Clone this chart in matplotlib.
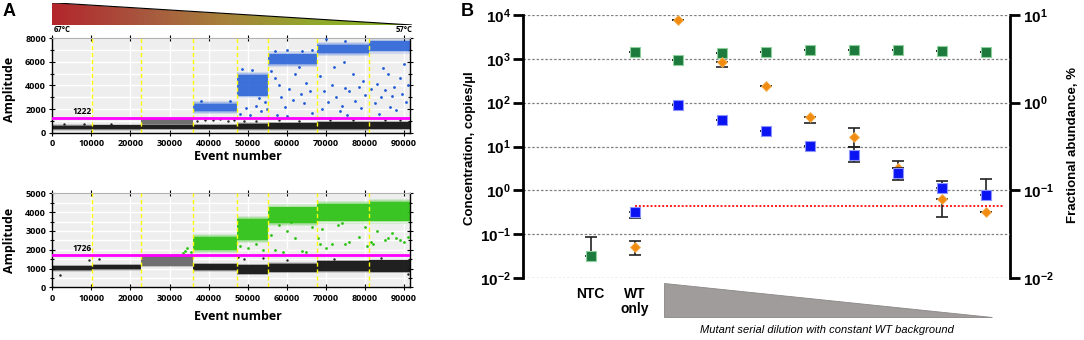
import numpy as np
import matplotlib
matplotlib.use('Agg')
import matplotlib.pyplot as plt
from matplotlib.patches import Polygon
from matplotlib.colors import LinearSegmentedColormap
from matplotlib.ticker import NullLocator, MultipleLocator, FixedLocator
import matplotlib.transforms as mtransforms

plt.rcParams['font.family'] = ['Liberation Sans', 'DejaVu Sans']
plt.rcParams['font.weight'] = 'bold'
plt.rcParams['mathtext.fontset'] = 'custom'
plt.rcParams['mathtext.bf'] = 'Liberation Sans:bold'
plt.rcParams['mathtext.rm'] = 'Liberation Sans'

# ======================= DATA =======================
# ---- Panel A: droplet plots ----
well_edges = [0, 10200, 22800, 36100, 47300, 55200, 67700, 81000, 91500]
fam_threshold = 1222
hex_threshold = 1726

# cluster bands per well (amplitude low / high); None = no cluster
fam_neg_lo = [300, 300, 320, 330, 300, 290, 300, 310]
fam_neg_hi = [600, 620, 640, 650, 760, 820, 880, 900]
fam_mid_lo = [None, None, 720, None, None, None, None, None]
fam_mid_hi = [None, None, 1200, None, None, None, None, None]
fam_pos_lo = [None, None, None, 1800, 3150, 5800, 6750, 6950]
fam_pos_hi = [None, None, None, 2450, 4900, 6650, 7450, 7750]

hex_neg_lo = [900, 950, None, 900, 720, 820, 860, 820]
hex_neg_hi = [1130, 1180, None, 1220, 1180, 1250, 1380, 1430]
hex_mid_lo = [None, None, 1150, None, None, None, None, None]
hex_mid_hi = [None, None, 1700, None, None, None, None, None]
hex_pos_lo = [None, None, None, 1980, 2500, 3400, 3550, 3550]
hex_pos_hi = [None, None, None, 2700, 3650, 4250, 4450, 4550]

# scattered "rain" droplets (event number, amplitude)
fam_rain_x = [48000, 49500, 50500, 52000, 53500, 54500, 51000, 48500, 53000, 55000,
              56000, 57000, 58500, 59500, 60500, 61500, 62000, 63500, 64500, 65000,
              66500, 57500, 60000, 63000, 66000, 58000, 57000, 60000, 64000, 66500,
              68500, 69500, 70500, 71500, 72500, 73500, 74000, 75000, 76000, 77000,
              77500, 78500, 79500, 80000, 72000, 69000, 75500, 74500, 79000, 70000,
              75000, 81500, 82500, 83000, 84000, 85000, 86000, 86500, 87500, 88000,
              89000, 89500, 90500, 91000, 90000, 84500, 83500, 87000, 45500, 38000]
fam_rain_y = [1600, 2100, 1500, 2300, 1800, 2600, 5300, 5400, 2900, 2000,
              5200, 4600, 3000, 2200, 3700, 2800, 5000, 3300, 2500, 4200,
              1700, 1500, 1400, 5600, 3500, 4000, 6950, 7000, 6900, 7000,
              4800, 3500, 2600, 4000, 3000, 1800, 2300, 3800, 3500, 5000,
              2700, 3900, 4400, 3200, 5600, 2000, 1500, 6000, 2100, 7900,
              7800, 3700, 2500, 4100, 3000, 3600, 5000, 2200, 3900, 1900,
              4600, 3300, 2600, 4000, 5800, 5500, 1600, 3100, 2700, 2650]
fam_neg_out_x = [3000, 8000, 15000, 37000, 39000, 41000, 43000, 45000, 46500, 49000,
                 52000, 58000, 63000, 71000, 77000, 85000, 89000]
fam_neg_out_y = [700, 750, 720, 1000, 1100, 1050, 1150, 1000, 1100, 950,
                 1000, 1050, 1000, 1100, 1050, 1100, 1080]

hex_rain_x = [33500, 34500, 35500, 34000, 48000, 50000, 52000, 54000,
              56000, 57000, 58000, 59000, 60000, 62000, 64000, 65000, 66500, 61000,
              68000, 68500, 70000, 71500, 73000, 75000, 76000, 78500, 80000, 80500,
              69000, 74000, 81500, 82000, 83000, 85000, 86000, 87000, 88000, 89000,
              90000, 91000]
hex_rain_y = [1850, 2100, 1900, 1950, 2200, 2100, 2300, 2000,
              2800, 2000, 3300, 1900, 3000, 2600, 1950, 1900, 3200, 3500,
              2600, 2300, 2100, 2300, 3300, 2300, 2400, 2700, 3200, 2200,
              3100, 3400, 2400, 2300, 3000, 2500, 2600, 2900, 2600, 2500,
              2400, 2700]
hex_neg_out_x = [2000, 9500, 12000, 47500, 49000, 54000, 91000, 60000, 72000, 84000]
hex_neg_out_y = [650, 1450, 1500, 1600, 1500, 1550, 700, 1450, 1500, 1550]

# ---- Panel B ----
categories = ['NTC', 'WT\nonly', 'D1', 'D2', 'D3', 'D4', 'D5', 'D6', 'D7', 'D8']
wt_conc = [0.032, 1450, 940, 1330, 1450, 1550, 1550, 1600, 1520, 1430]
wt_err_lo = [0, 0, 0, 0, 0, 0, 0, 0, 0, 0]
wt_err_hi = [0.055, 0, 0, 0, 0, 0, 0, 0, 0, 0]
mut_conc = [np.nan, 0.32, 87, 40, 22, 10.2, 6.3, 2.45, 1.15, 0.78]
mut_err_lo = [0, 0.083, 0, 0, 0, 0, 1.93, 0.73, 0, 0]
mut_err_hi = [0, 0, 0, 0, 0, 0, 3.7, 0.85, 0.48, 1.03]
frac_abund = [np.nan, 0.0226, 8.77, 2.93, 1.54, 0.68, 0.41, 0.181, 0.079, 0.056]
frac_err_lo = [0, 0.0043, 0, 0.36, 0, 0.09, 0.095, 0, 0.029, 0]
frac_err_hi = [0, 0.0041, 0, 0, 0, 0, 0.109, 0.033, 0, 0]
lod_conc = 0.447

# ======================= FIGURE =======================
W, H = 1084, 340
fig = plt.figure(figsize=(W / 100, H / 100), dpi=100)


def px_axes(x0, y0, x1, y1):
    return fig.add_axes([x0 / W, 1 - y1 / H, (x1 - x0) / W, (y1 - y0) / H])


def ftext(x, y, s, **kw):
    return fig.text(x / W, 1 - y / H, s, **kw)


AFONT = 'Open Sans'


def band(ax, x0, x1, lo, hi, color, fringe, core_alpha=0.9):
    if lo is None:
        return
    for k, a in [(1.0, 0.15), (0.6, 0.2), (0.25, 0.25)]:
        ax.fill_between([x0, x1], lo - k * fringe, hi + k * fringe, color=color, alpha=a,
                        lw=0, zorder=2)
    ax.fill_between([x0, x1], lo, hi, color=color, alpha=core_alpha, lw=0, zorder=2.1)


def droplet_panel(ax, ymax, ystep, yminor, neg_lo, neg_hi, mid_lo, mid_hi, pos_lo, pos_hi,
                  pos_color, pos_alpha, rain_x, rain_y, nx, ny, thr, fringe):
    ax.set_facecolor('#eeeeee')
    ax.set_xlim(0, 91500)
    ax.set_ylim(0, ymax)
    ax.set_xticks(np.arange(0, 90001, 10000))
    ax.set_yticks(np.arange(0, ymax + 1, ystep))
    ax.yaxis.set_minor_locator(MultipleLocator(yminor))
    ax.grid(True, which='both', color='white', lw=1.0)
    ax.set_axisbelow(True)
    for i in range(len(well_edges) - 1):
        x0, x1 = well_edges[i], well_edges[i + 1]
        band(ax, x0, x1, neg_lo[i], neg_hi[i], '#151515', fringe)
        band(ax, x0, x1, mid_lo[i], mid_hi[i], '#6a6a6a', fringe)
        band(ax, x0, x1, pos_lo[i], pos_hi[i], pos_color, fringe * 2, pos_alpha)
    ax.scatter(rain_x, rain_y, s=4, color=pos_color, lw=0, zorder=3)
    ax.scatter(nx, ny, s=3, color='#202020', lw=0, zorder=3)
    for e in well_edges[1:-1]:
        ax.axvline(e, color='#ffff00', lw=1.0, ls=(0, (3, 2)), zorder=4)
    ax.axhline(thr, color='#ff00ff', lw=2.0, zorder=5)
    ax.text(7700, thr + ymax * 0.02, str(thr), fontsize=6, fontweight='bold', family=AFONT,
            ha='center', va='bottom', zorder=6)
    ax.tick_params(axis='both', which='both', direction='inout', top=True, right=True,
                   labelsize=6.5, width=0.8, pad=2)
    ax.tick_params(axis='both', which='major', length=5)
    ax.tick_params(axis='both', which='minor', length=3)
    for s in ['left', 'bottom', 'right']:
        ax.spines[s].set_color('black')
        ax.spines[s].set_linewidth(1.0)
    ax.spines['top'].set_color('#b0b0b0')
    for lbl in ax.get_xticklabels() + ax.get_yticklabels():
        lbl.set_family(AFONT)
        lbl.set_fontweight('bold')


# ---- gradient triangle ----
axg = px_axes(52, 2.7, 412, 25)
axg.set_xlim(0, 1)
axg.set_ylim(0, 1)
axg.axis('off')
cmap = LinearSegmentedColormap.from_list('temp', ['#b3262c', '#a8563f', '#a6843a', '#8fab2a', '#86b327'])
im = axg.imshow(np.linspace(0, 1, 256)[None, :], cmap=cmap, aspect='auto', extent=[0, 1, 0, 1])
tri = Polygon([(0, 1), (0, 0), (1, 0)], closed=True, transform=axg.transData)
im.set_clip_path(tri)
axg.plot([0, 1], [1, 0], color='black', lw=0.8)
axg.plot([0, 1], [0, 0], color='#333333', lw=0.6)
ftext(54, 30, '67°C', fontsize=5.5, fontweight='bold', family=AFONT, ha='left', va='center')
ftext(412, 30, '57°C', fontsize=5.5, fontweight='bold', family=AFONT, ha='right', va='center')

# ---- droplet panels ----
ax1 = px_axes(52.3, 38.3, 410, 132.7)
droplet_panel(ax1, 8000, 2000, 1000, fam_neg_lo, fam_neg_hi, fam_mid_lo, fam_mid_hi,
              fam_pos_lo, fam_pos_hi, '#1f5ad6', 0.7, fam_rain_x, fam_rain_y,
              fam_neg_out_x, fam_neg_out_y, fam_threshold, 120)
ax2 = px_axes(52.3, 193.3, 410, 287.3)
droplet_panel(ax2, 5000, 1000, 500, hex_neg_lo, hex_neg_hi, hex_mid_lo, hex_mid_hi,
              hex_pos_lo, hex_pos_hi, '#2cc214', 0.85, hex_rain_x, hex_rain_y,
              hex_neg_out_x, hex_neg_out_y, hex_threshold, 80)

ftext(10, 89, 'Amplitude', rotation=90, fontsize=9, fontweight='bold', family=AFONT,
      ha='center', va='center')
ftext(10, 240, 'Amplitude', rotation=90, fontsize=9, fontweight='bold', family=AFONT,
      ha='center', va='center')
ftext(238, 157, 'Event number', fontsize=9, fontweight='bold', family=AFONT,
      ha='center', va='center')
ftext(238, 317, 'Event number', fontsize=9, fontweight='bold', family=AFONT,
      ha='center', va='center')
ftext(9, 11, 'A', fontsize=13, fontweight='bold', ha='center', va='center')

# ---- Panel B ----
axB = px_axes(523, 15, 1010, 278)
axB.set_yscale('log')
axB.set_ylim(1e-2, 1e4)
x = np.arange(len(categories))
axB.set_xlim(-1.54, 9.55)
for s in ['top', 'bottom', 'right']:
    axB.spines[s].set_visible(False)
axB.spines['left'].set_linewidth(2)
axB.set_xticks([])
dec = list(range(-2, 5))
axB.yaxis.set_major_locator(FixedLocator([10.0 ** k for k in dec]))
axB.set_yticklabels([r'$\mathbf{10^{%d}}$' % k for k in dec])
axB.yaxis.set_minor_locator(NullLocator())
axB.tick_params(axis='y', which='major', length=7, width=2, labelsize=11, pad=2)
axB.yaxis.grid(True, which='major', color='#808080', ls=(0, (2, 1.5)), lw=0.9)
axB.set_axisbelow(True)


def conc_to_frac(v):
    return np.sqrt(np.clip(np.asarray(v, dtype=float), 1e-30, None) / 100.0)


def frac_to_conc(f):
    return 100.0 * np.asarray(f, dtype=float) ** 2


sec = axB.secondary_yaxis('right', functions=(conc_to_frac, frac_to_conc))
sec.spines['right'].set_linewidth(2)
rdec = list(range(-2, 2))
sec.yaxis.set_major_locator(FixedLocator([10.0 ** k for k in rdec]))
sec.set_yticklabels([r'$\mathbf{10^{%d}}$' % k for k in rdec])
sec.yaxis.set_minor_locator(NullLocator())
sec.tick_params(axis='y', which='major', length=7, width=2, labelsize=11, pad=2)

# limit of detection line
axB.plot([x[1], 9.4], [lod_conc, lod_conc], color='#ff1a1a', lw=1.4, ls=(0, (1, 1)), zorder=2)

ekw = dict(fmt='none', ecolor='#222222', elinewidth=1.2, capsize=4, capthick=1.2)
# green (WT)
axB.errorbar(x, wt_conc, yerr=[wt_err_lo, wt_err_hi], zorder=3, **ekw)
axB.plot(x, wt_conc, ls='none', marker='s', ms=7.5, mfc='#1c7a3c', mec='#8fcf9e', mew=0.8, zorder=4)
# orange (fractional abundance, right axis)
fa = np.array(frac_abund)
fa_lo = fa - np.array(frac_err_lo)
fa_hi = fa + np.array(frac_err_hi)
fa_c = frac_to_conc(fa)
axB.errorbar(x, fa_c, yerr=[fa_c - frac_to_conc(fa_lo), frac_to_conc(fa_hi) - fa_c], zorder=5, **ekw)
axB.plot(x, fa_c, ls='none', marker='D', ms=5.5, mfc='#f28c10', mec='#f6b45a', mew=0.6, zorder=6)
# blue (mutant)
axB.errorbar(x, mut_conc, yerr=[mut_err_lo, mut_err_hi], zorder=7, **ekw)
axB.plot(x, mut_conc, ls='none', marker='s', ms=7.5, mfc='#0a14f2', mec='#8d93ff', mew=0.8, zorder=8)

# category labels
trans = mtransforms.blended_transform_factory(axB.transData, axB.transAxes)
axB.text(x[0], -0.035, categories[0], transform=trans, ha='center', va='top', fontsize=10,
         fontweight='bold')
axB.text(x[1], -0.035, categories[1], transform=trans, ha='center', va='top', fontsize=10,
         fontweight='bold', linespacing=1.05)
tri_b = Polygon([(1.67, -0.019), (1.67, -0.148), (9.14, -0.148)], closed=True, transform=trans,
                facecolor='#a09c9c', edgecolor='#8a8686', lw=0.6, clip_on=False)
axB.add_patch(tri_b)
ftext(827, 330, 'Mutant serial dilution with constant WT background', fontsize=8,
      fontweight='normal', style='italic', ha='center', va='center')

ftext(470, 148, 'Concentration, copies/µl', rotation=90, fontsize=9.5, fontweight='bold',
      ha='center', va='center')
ftext(1073, 145, 'Fractional abundance, %', rotation=90, fontsize=9.5, fontweight='bold',
      ha='center', va='center')
ftext(467, 12, 'B', fontsize=13, fontweight='bold', ha='center', va='center')

fig.savefig('out.png', dpi=100)
